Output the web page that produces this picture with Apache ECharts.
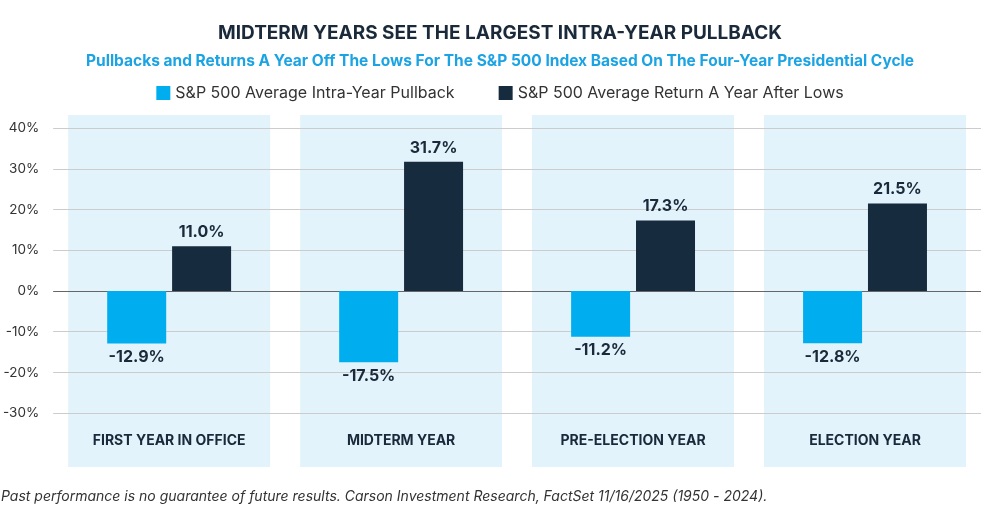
<!DOCTYPE html>
<html><head><meta charset="utf-8">
<script src="https://cdn.jsdelivr.net/npm/echarts@6/dist/echarts.min.js"></script>
<style>body{margin:0}#c{width:1000px;height:526px}</style></head>
<body><div id="c"></div>
<script>
const categories = ['FIRST YEAR IN OFFICE','MIDTERM YEAR','PRE-ELECTION YEAR','ELECTION YEAR'];
const pullback = [-12.9, -17.5, -11.2, -12.8];
const returnAfterLows = [11.0, 31.7, 17.3, 21.5];
const tickValues = [-30,-20,-10,0,10,20,30,40];
const font = 'Inter, "Noto Sans", sans-serif';
const chart = echarts.init(document.getElementById('c'));
chart.setOption({
  title: [
    {text:'MIDTERM YEARS SEE THE LARGEST INTRA-YEAR PULLBACK', left:'center', top:19,
     textStyle:{fontFamily:font,fontSize:19,fontWeight:'bold',color:'#1a2a3a'}},
    {text:'Pullbacks and Returns A Year Off The Lows For The S&P 500 Index Based On The Four-Year Presidential Cycle', left:'center', top:48,
     textStyle:{fontFamily:font,fontSize:15.5,fontWeight:'bold',color:'#1ba3e3'}},
    {text:'Past performance is no guarantee of future results. Carson Investment Research, FactSet 11/16/2025 (1950 - 2024).', left:-4, top:485,
     textStyle:{fontFamily:font,fontSize:14,fontStyle:'italic',fontWeight:'normal',color:'#333'}}
  ],
  legend:{top:80, left:'center', itemWidth:14, itemHeight:14, itemGap:44, icon:'rect',
    data:['S&P 500 Average Intra-Year Pullback','S&P 500 Average Return A Year After Lows'],
    textStyle:{fontFamily:font,fontSize:16,color:'#333'}},
  grid:{left:53, right:19, top:115, bottom:59},
  xAxis:[
    {type:'category', data:categories, axisLine:{show:false}, axisTick:{show:false},
     axisLabel:{inside:true, margin:19, fontFamily:font, fontSize:14, fontWeight:'bold', color:'#1a2a3a'}},
    {type:'category', data:categories, show:false}
  ],
  yAxis:{type:'value', min:-43.2, max:43.2, splitLine:{show:false},
    axisLabel:{customValues:tickValues, formatter:v=>Math.round(v)+'%', fontFamily:font, fontSize:13.5, color:'#333', margin:14},
    axisTick:{show:false}, axisLine:{show:false}},
  series:[
    {type:'bar', xAxisIndex:1, barWidth:202, data:[0,0,0,0], showBackground:true, silent:true,
     backgroundStyle:{color:'#e3f3fb'}, z:0, legendHoverLink:false,
     markLine:{silent:true, symbol:'none', label:{show:false}, z:1,
       data: tickValues.map(v=>({yAxis:v, lineStyle:{color: v===0?'#666':'#ccc', width:1, type:'solid'}}))}},
    {name:'S&P 500 Average Intra-Year Pullback', type:'bar', data:pullback, barWidth:59, barGap:'10%', z:3,
     itemStyle:{color:'#00aeef'},
     label:{show:true, position:'bottom', distance:6, formatter:p=>p.value.toFixed(1)+'%', fontFamily:font, fontSize:16, fontWeight:'bold', color:'#1a2a3a'}},
    {name:'S&P 500 Average Return A Year After Lows', type:'bar', data:returnAfterLows, barWidth:59, z:3,
     itemStyle:{color:'#172b3e'},
     label:{show:true, position:'top', distance:6, formatter:p=>p.value.toFixed(1)+'%', fontFamily:font, fontSize:16, fontWeight:'bold', color:'#1a2a3a'}}
  ]
});
</script></body></html>
